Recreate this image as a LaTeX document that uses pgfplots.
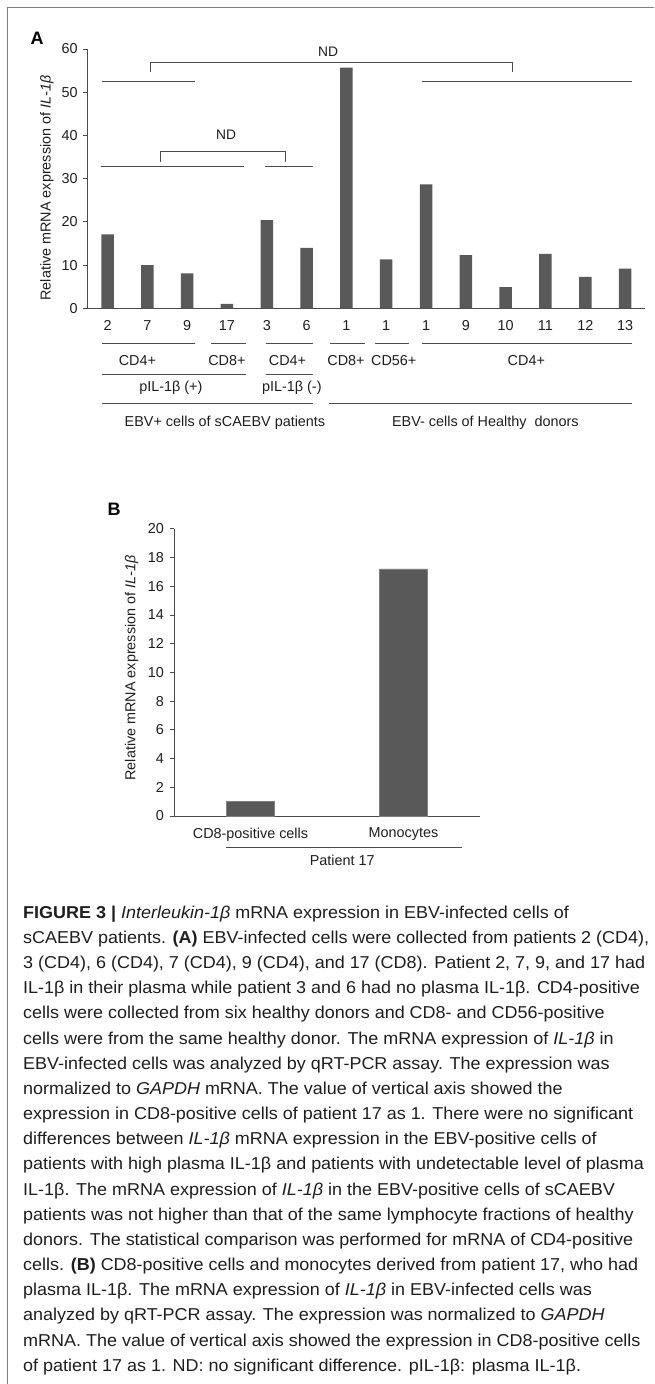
\documentclass[border=0pt]{standalone}
\usepackage{pgfplots}
\pgfplotsset{compat=1.18}
\usepackage{fontspec}
\setmainfont{Liberation Sans}
\newfontfamily\capfont[FakeStretch=1.045]{Liberation Sans}
\definecolor{barc}{HTML}{595959}
\definecolor{axc}{HTML}{4A4A4A}
\definecolor{framec}{HTML}{808080}
\definecolor{txt}{HTML}{1E1E1E}
\newcommand{\fs}[1]{\fontsize{#1}{#1}\selectfont}
\begin{document}
\begin{tikzpicture}[x=1pt,y=1pt]
\path[use as bounding box] (0,0) rectangle (654,-1384);
% frame
\draw[framec, line width=1.2pt] (7.5,-1384) -- (7.5,-7.5) -- (654,-7.5);
% panel labels
\node[font=\fs{18}\bfseries, text=black] at (37,-38) {A};
\node[font=\fs{18}\bfseries, text=black] at (114,-509) {B};

% ---------------- Panel A ----------------
\begin{axis}[
  at={(87.6pt,-308.3pt)}, anchor=south west, scale only axis,
  width=557.4pt, height=259.3pt,
  xmin=-0.5, xmax=13.5, ymin=0, ymax=60,
  axis x line=bottom, axis y line=left,
  axis line style={-, draw=axc, line width=1pt},
  ytick={0,10,...,60},
  xtick={0,...,13},
  xticklabels={2,7,9,17,3,6,1,1,1,9,10,11,12,13},
  xtick style={draw=none},
  ytick style={draw=axc, line width=0.8pt},
  tick align=outside, major tick length=4.5pt,
  tick label style={font=\fs{14.4}, text=txt},
  xticklabel style={yshift=-4pt},
  yticklabel style={xshift=-2pt},
  /pgf/number format/assume math mode=true,
  clip=false,
]
\addplot[ybar, bar width=12.5pt, fill=barc, draw=none] table {
x y
0 17.1
1 10.0
2 8.1
3 1.0
4 20.4
5 14.0
6 55.7
7 11.3
8 28.7
9 12.3
10 4.9
11 12.6
12 7.3
13 9.2
};
% brackets
\draw[axc, line width=0.9pt] (axis cs:-0.14,52.5) -- (axis cs:2.2,52.5);
\draw[axc, line width=0.9pt] (axis cs:7.89,52.5) -- (axis cs:13.18,52.5);
\draw[axc, line width=0.9pt] (axis cs:1.09,54.6) -- (axis cs:1.09,56.9) -- (axis cs:10.16,56.9) -- (axis cs:10.16,54.6);
\node[font=\fs{13.8}, text=txt] at (axis cs:5.54,59.4) {ND};
\draw[axc, line width=0.9pt] (axis cs:-0.17,32.9) -- (axis cs:3.44,32.9);
\draw[axc, line width=0.9pt] (axis cs:3.95,32.9) -- (axis cs:5.15,32.9);
\draw[axc, line width=0.9pt] (axis cs:1.33,33.9) -- (axis cs:1.33,36.3) -- (axis cs:4.47,36.3) -- (axis cs:4.47,33.9);
\node[font=\fs{13.8}, text=txt] at (axis cs:2.98,40.1) {ND};
% group lines below axis
\draw[axc, line width=0.9pt] (axis cs:-0.14,-8.1) -- (axis cs:2.2,-8.1);
\draw[axc, line width=0.9pt] (axis cs:2.61,-8.1) -- (axis cs:3.48,-8.1);
\draw[axc, line width=0.9pt] (axis cs:3.97,-8.1) -- (axis cs:5.17,-8.1);
\draw[axc, line width=0.9pt] (axis cs:5.59,-8.1) -- (axis cs:6.46,-8.1);
\draw[axc, line width=0.9pt] (axis cs:6.72,-8.1) -- (axis cs:7.58,-8.1);
\draw[axc, line width=0.9pt] (axis cs:7.89,-8.1) -- (axis cs:13.18,-8.1);
\node[font=\fs{14.4}, text=txt] at (axis cs:0.75,-12.0) {CD4+};
\node[font=\fs{14.4}, text=txt] at (axis cs:3.0,-12.0) {CD8+};
\node[font=\fs{14.4}, text=txt] at (axis cs:4.52,-12.0) {CD4+};
\node[font=\fs{14.4}, text=txt] at (axis cs:5.99,-12.0) {CD8+};
\node[font=\fs{14.4}, text=txt] at (axis cs:7.19,-12.0) {CD56+};
\node[font=\fs{14.4}, text=txt] at (axis cs:10.52,-12.0) {CD4+};
\draw[axc, line width=0.9pt] (axis cs:-0.14,-15.2) -- (axis cs:3.48,-15.2);
\draw[axc, line width=0.9pt] (axis cs:3.97,-15.2) -- (axis cs:5.17,-15.2);
\node[font=\fs{14.4}, text=txt] at (axis cs:1.59,-18.3) {pIL-1β (+)};
\node[font=\fs{14.4}, text=txt] at (axis cs:4.63,-18.3) {pIL-1β (-)};
\draw[axc, line width=0.9pt] (axis cs:-0.14,-22.0) -- (axis cs:5.17,-22.0);
\draw[axc, line width=0.9pt] (axis cs:5.57,-22.0) -- (axis cs:13.18,-22.0);
\node[font=\fs{14.4}, text=txt] at (axis cs:2.95,-26.5) {EBV+ cells of sCAEBV patients};
\node[font=\fs{14.4}, text=txt] at (axis cs:9.49,-26.5) {EBV- cells of Healthy\ \ donors};
\end{axis}
\node[rotate=90, font=\fs{14.4}, text=txt] at (47,-188) {Relative mRNA expression of \textit{IL-1β}};

% ---------------- Panel B ----------------
\begin{axis}[
  at={(174pt,-816pt)}, anchor=south west, scale only axis,
  width=306pt, height=287.3pt,
  xmin=-0.5, xmax=1.5, ymin=0, ymax=20,
  axis x line=bottom, axis y line=left,
  axis line style={-, draw=axc, line width=1pt},
  ytick={0,2,...,20},
  xtick={0,1},
  xticklabels={CD8-positive cells, Monocytes},
  xtick style={draw=none},
  ytick style={draw=axc, line width=0.8pt},
  tick align=outside, major tick length=4.5pt,
  tick label style={font=\fs{14.4}, text=txt},
  xticklabel style={yshift=-4pt},
  yticklabel style={xshift=-2pt},
  /pgf/number format/assume math mode=true,
  clip=false,
]
\addplot[ybar, bar width=48pt, fill=barc, draw=gray] table {
x y
0 1.0
1 17.2
};
\draw[axc, line width=0.9pt] (axis cs:-0.157,-2.2) -- (axis cs:1.38,-2.2);
\node[font=\fs{14.4}, text=txt] at (axis cs:0.6,-3.1) {Patient 17};
\end{axis}
\node[rotate=90, font=\fs{14.4}, text=txt] at (131.7,-668) {Relative mRNA expression of \textit{IL-1β}};

% ---------------- Caption ----------------
\begin{scope}[every node/.style={anchor=base west, inner sep=0pt, font=\capfont\fs{17.2}, text=txt}]
\node at (23,-918.3) {\textbf{FIGURE 3 \textbar{}} \textit{Interleukin-1β} mRNA expression in EBV-infected cells of};
\node at (23,-943.5) {sCAEBV patients. \textbf{(A)} EBV-infected cells were collected from patients 2 (CD4),};
\node at (23,-968.6) {3 (CD4), 6 (CD4), 7 (CD4), 9 (CD4), and 17 (CD8). Patient 2, 7, 9, and 17 had};
\node at (23,-993.8) {IL-1β in their plasma while patient 3 and 6 had no plasma IL-1β. CD4-positive};
\node at (23,-1018.9) {cells were collected from six healthy donors and CD8- and CD56-positive};
\node at (23,-1044.1) {cells were from the same healthy donor. The mRNA expression of \textit{IL-1β} in};
\node at (23,-1069.3) {EBV-infected cells was analyzed by qRT-PCR assay. The expression was};
\node at (23,-1094.4) {normalized to \textit{GAPDH} mRNA. The value of vertical axis showed the};
\node at (23,-1119.6) {expression in CD8-positive cells of patient 17 as 1. There were no significant};
\node at (23,-1144.7) {differences between \textit{IL-1β} mRNA expression in the EBV-positive cells of};
\node at (23,-1169.9) {patients with high plasma IL-1β and patients with undetectable level of plasma};
\node at (23,-1195.1) {IL-1β. The mRNA expression of \textit{IL-1β} in the EBV-positive cells of sCAEBV};
\node at (23,-1220.2) {patients was not higher than that of the same lymphocyte fractions of healthy};
\node at (23,-1245.4) {donors. The statistical comparison was performed for mRNA of CD4-positive};
\node at (23,-1270.5) {cells. \textbf{(B)} CD8-positive cells and monocytes derived from patient 17, who had};
\node at (23,-1295.7) {plasma IL-1β. The mRNA expression of \textit{IL-1β} in EBV-infected cells was};
\node at (23,-1320.9) {analyzed by qRT-PCR assay. The expression was normalized to \textit{GAPDH}};
\node at (23,-1346.0) {mRNA. The value of vertical axis showed the expression in CD8-positive cells};
\node at (23,-1371.2) {of patient 17 as 1. ND: no significant difference. pIL-1β: plasma IL-1β.};
\end{scope}
\end{tikzpicture}
\end{document}
